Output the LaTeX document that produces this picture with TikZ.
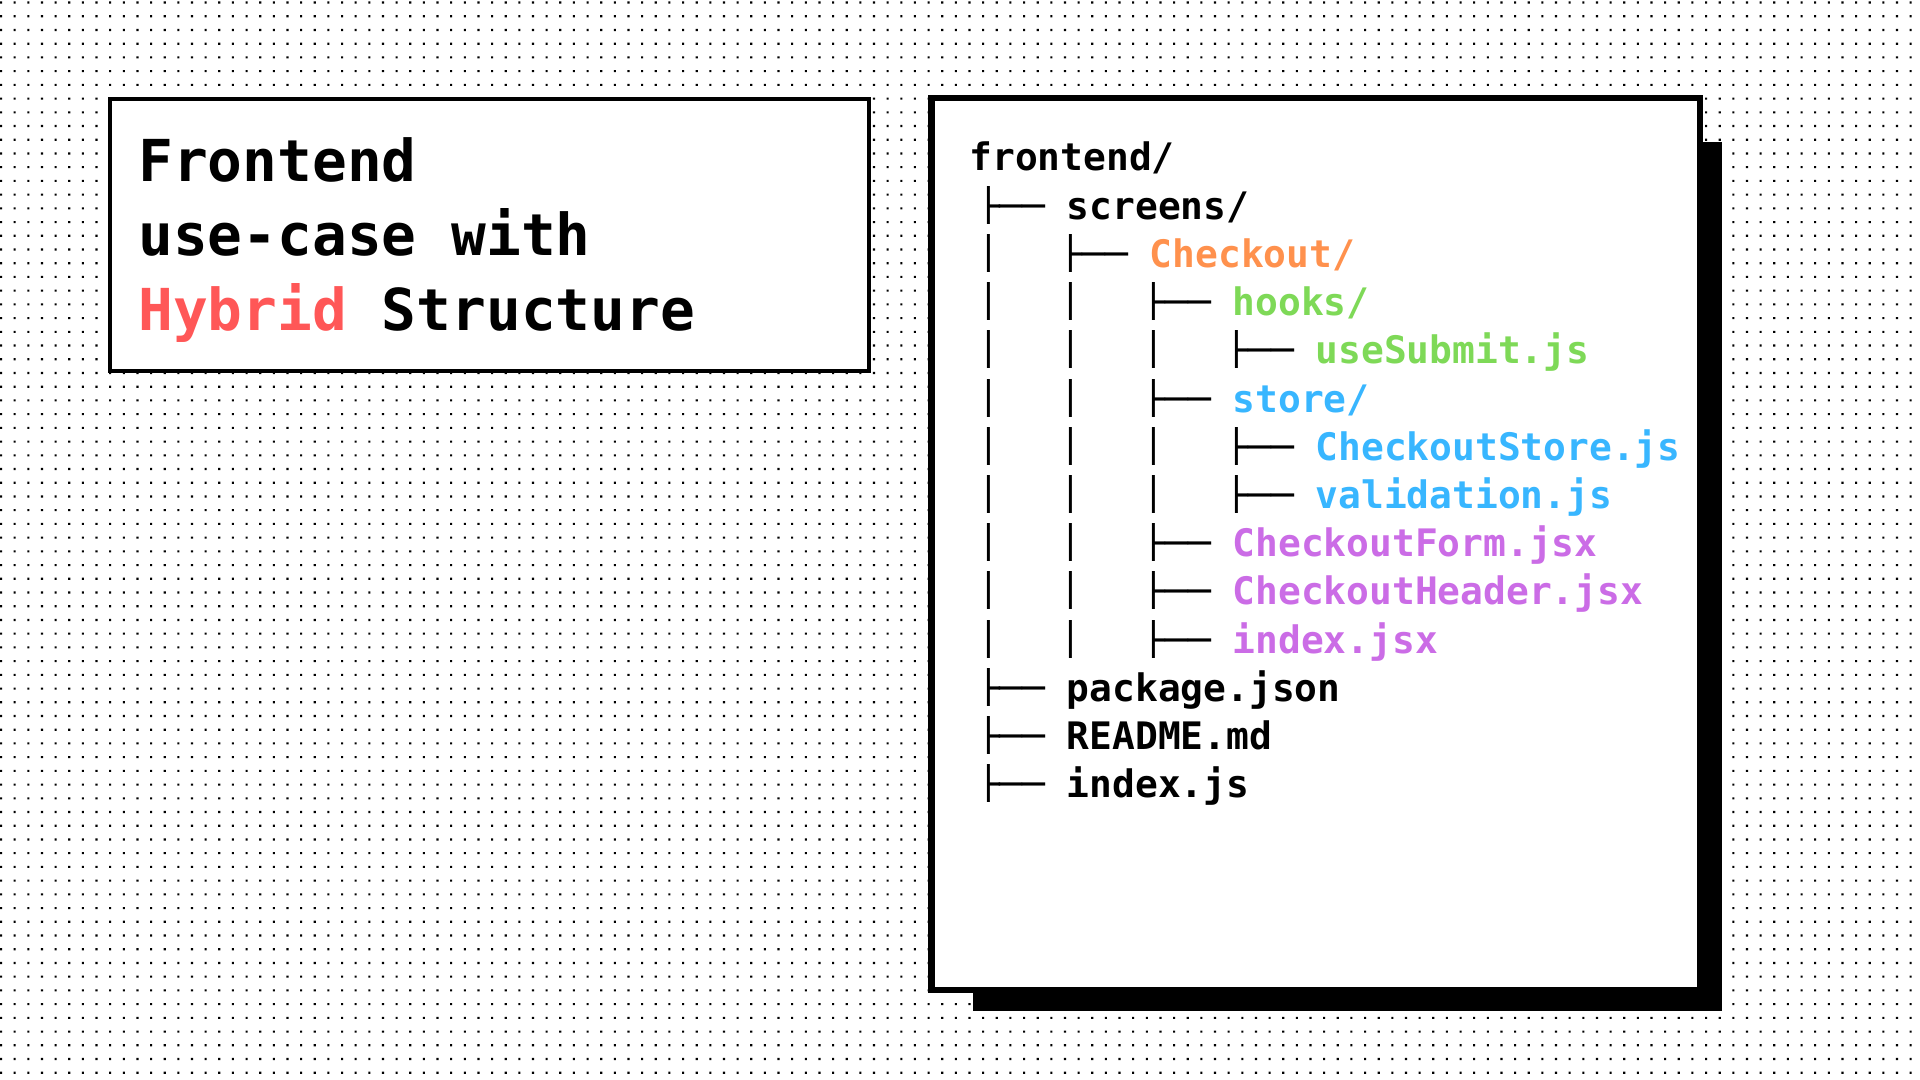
\documentclass[tikz,border=0pt]{standalone}
\usepackage{fontspec}
\newfontfamily\codefont{DejaVu Sans Mono}
\definecolor{hyred}{HTML}{FF5757}
\definecolor{ckorange}{HTML}{FF914D}
\definecolor{hkgreen}{HTML}{7ED957}
\definecolor{stblue}{HTML}{38B6FF}
\definecolor{cpurple}{HTML}{CB6CE6}
% #1 name, #2 level, #3 row, #4 glyphs
\newcommand\tglyph[4]{%
  \pgfmathsetmacro\gx{988+82.9*(#2-1)}%
  \pgfmathsetmacro\gy{171+48.2*#3}%
  \begin{scope}
    \clip (\gx-14,\gy-33) rectangle (\gx+62,\gy+4);
    \node[branchglyph] (#1) at (\gx-11.4,\gy) {#4};
  \end{scope}}
\newcommand\tbranch[3]{\tglyph{#1}{#2}{#3}{├──}}
\newcommand\tvbar[3]{\tglyph{#1}{#2}{#3}{│}}
\newcommand\tentry[5]{\node[codetext, text=#4] (#1) at ({1066.5+82.9*(#2-1)},{171+48.2*#3}) {#5};}
\begin{document}
\begin{tikzpicture}[x=0.5pt,y=-0.5pt,
  titletext/.style={anchor=base west, inner sep=0pt, font=\codefont\bfseries\fontsize{28.9}{30}\selectfont},
  codetext/.style={anchor=base west, inner sep=0pt, font=\codefont\bfseries\fontsize{18.94}{20}\selectfont},
  branchglyph/.style={anchor=base west, inner sep=0pt, font=\codefont\fontsize{18.94}{20}\selectfont},
  dot/.style={fill=black},
  panel/.style={fill=white, draw=black}]
\useasboundingbox (0,0) rectangle (1920,1080);
\fill[white] (0,0) rectangle (1920,1080);
% dot grid
\foreach \j in {0,...,78}{
  \pgfmathsetmacro\dy{1.5+13.72*\j}
  \fill[dot] \foreach \i in {0,...,140}{ ({13.64*\i},\dy) rectangle ++(2.1,2.1) };
}
% shadow and frame
\fill[black] (973,142) rectangle (1722,1011);
\draw[panel, line width=3.25pt] (931.25,98.25) rectangle (1699.75,989.75);
% title box
\draw[panel, line width=2.15pt] (110.2,99.2) rectangle (868.8,370.8);
\node[titletext] (t1) at (138,181.7) {Frontend};
\node[titletext] (t2) at (138,256) {use-case with};
\node[titletext] (t3) at (138,330.3) {\textcolor{hyred}{Hybrid} Structure};
% tree
\node[codetext] (n0) at (969,171) {frontend/};
\tbranch{b1}{1}{1}
\tentry{n1}{1}{1}{black}{screens/}
\tvbar{v2a}{1}{2}
\tbranch{b2}{2}{2}
\tentry{n2}{2}{2}{ckorange}{Checkout/}
\tvbar{v3a}{1}{3}\tvbar{v3b}{2}{3}
\tbranch{b3}{3}{3}
\tentry{n3}{3}{3}{hkgreen}{hooks/}
\tvbar{v4a}{1}{4}\tvbar{v4b}{2}{4}\tvbar{v4c}{3}{4}
\tbranch{b4}{4}{4}
\tentry{n4}{4}{4}{hkgreen}{useSubmit.js}
\tvbar{v5a}{1}{5}\tvbar{v5b}{2}{5}
\tbranch{b5}{3}{5}
\tentry{n5}{3}{5}{stblue}{store/}
\tvbar{v6a}{1}{6}\tvbar{v6b}{2}{6}\tvbar{v6c}{3}{6}
\tbranch{b6}{4}{6}
\tentry{n6}{4}{6}{stblue}{CheckoutStore.js}
\tvbar{v7a}{1}{7}\tvbar{v7b}{2}{7}\tvbar{v7c}{3}{7}
\tbranch{b7}{4}{7}
\tentry{n7}{4}{7}{stblue}{validation.js}
\tvbar{v8a}{1}{8}\tvbar{v8b}{2}{8}
\tbranch{b8}{3}{8}
\tentry{n8}{3}{8}{cpurple}{CheckoutForm.jsx}
\tvbar{v9a}{1}{9}\tvbar{v9b}{2}{9}
\tbranch{b9}{3}{9}
\tentry{n9}{3}{9}{cpurple}{CheckoutHeader.jsx}
\tvbar{v10a}{1}{10}\tvbar{v10b}{2}{10}
\tbranch{b10}{3}{10}
\tentry{n10}{3}{10}{cpurple}{index.jsx}
\tbranch{b11}{1}{11}
\tentry{n11}{1}{11}{black}{package.json}
\tbranch{b12}{1}{12}
\tentry{n12}{1}{12}{black}{README.md}
\tbranch{b13}{1}{13}
\tentry{n13}{1}{13}{black}{index.js}
\end{tikzpicture}
\end{document}
